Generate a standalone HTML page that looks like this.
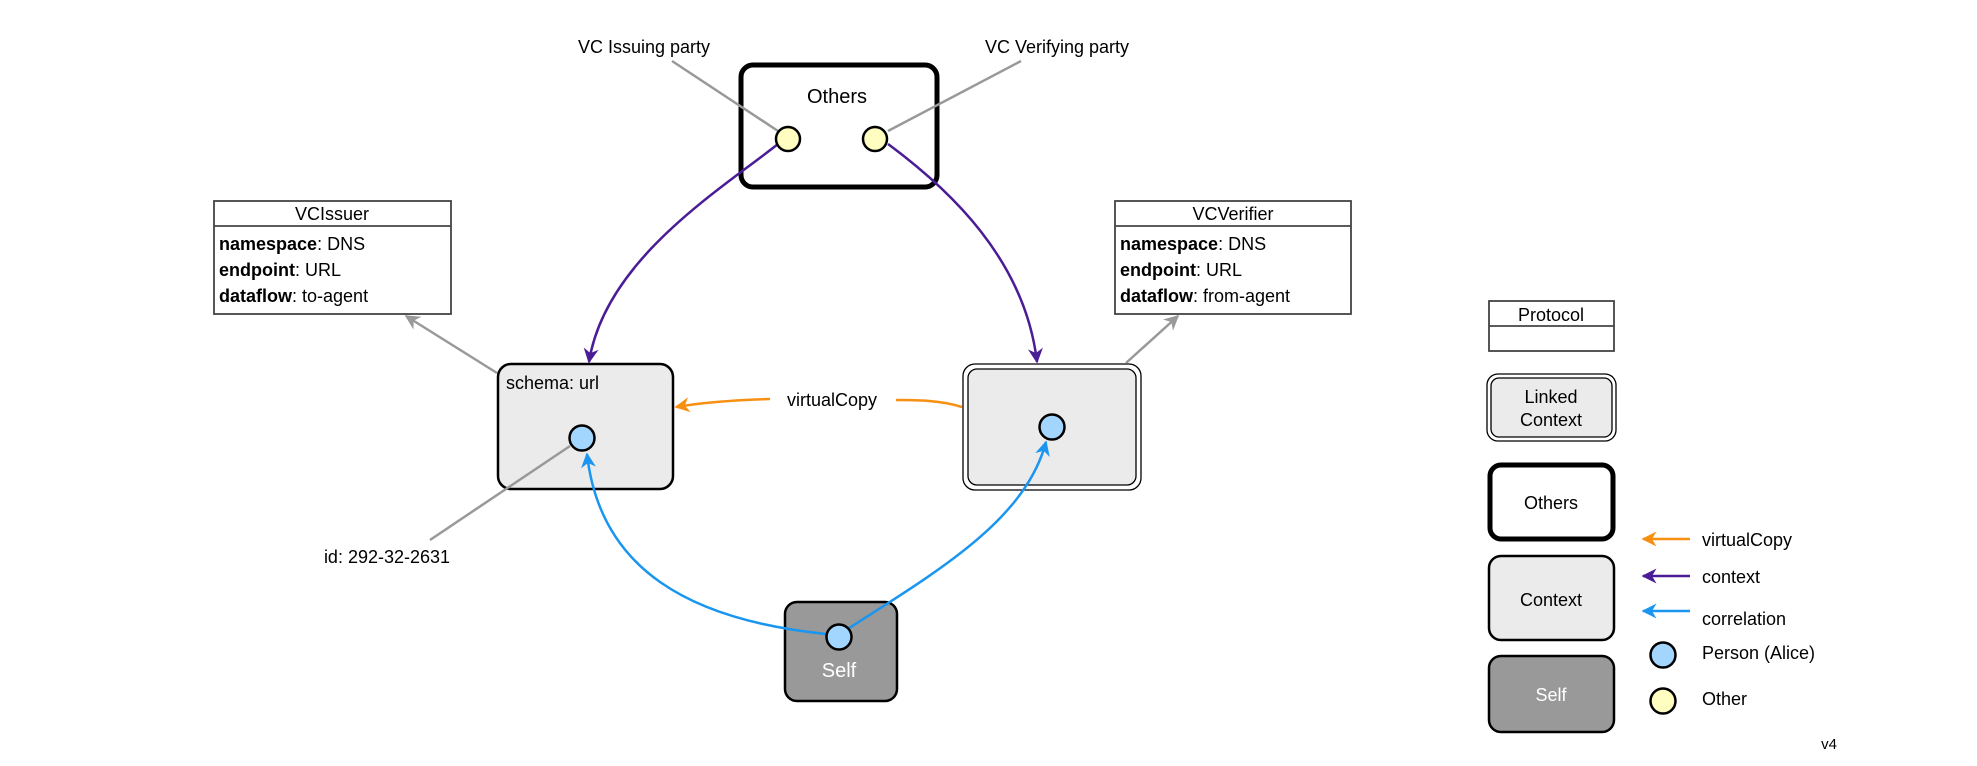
<!DOCTYPE html>
<html><head><meta charset="utf-8"><style>
html,body{margin:0;padding:0;background:#fff;}
svg{display:block;font-family:"Liberation Sans",Arial,sans-serif;}
</style></head><body>
<svg width="1977" height="766" viewBox="0 0 1977 766" xmlns="http://www.w3.org/2000/svg">
<defs>
<marker id="ap" viewBox="0 0 10 10" refX="9" refY="5" markerWidth="6" markerHeight="6" orient="auto"><path d="M0,0 L10,5 L0,10 L3,5z" fill="#4a1c96"/></marker>
<marker id="ab" viewBox="0 0 10 10" refX="9" refY="5" markerWidth="6" markerHeight="6" orient="auto"><path d="M0,0 L10,5 L0,10 L3,5z" fill="#1a96f0"/></marker>
<marker id="ao" viewBox="0 0 10 10" refX="9" refY="5" markerWidth="6" markerHeight="6" orient="auto"><path d="M0,0 L10,5 L0,10 L3,5z" fill="#f79010"/></marker>
<marker id="ag" viewBox="0 0 10 10" refX="9" refY="5" markerWidth="6" markerHeight="6" orient="auto"><path d="M0,0 L10,5 L0,10 L3,5z" fill="#999"/></marker>
</defs>
<g font-size="18" fill="#000">
<text x="644" y="53" text-anchor="middle">VC Issuing party</text>
<text x="1057" y="53" text-anchor="middle">VC Verifying party</text>
<rect x="741" y="65" width="196" height="122" rx="12" fill="#fff" stroke="#000" stroke-width="5"/>
<text x="837" y="103" text-anchor="middle" font-size="20">Others</text>
<line x1="672" y1="61" x2="778" y2="131" stroke="#999" stroke-width="2.5"/>
<line x1="1021" y1="61" x2="888" y2="131" stroke="#999" stroke-width="2.5"/>
<rect x="214" y="201" width="237" height="113" fill="#fff" stroke="#444" stroke-width="1.8"/>
<line x1="214" y1="226" x2="451" y2="226" stroke="#444" stroke-width="1.8"/>
<text x="332" y="220" text-anchor="middle">VCIssuer</text>
<text x="219" y="250"><tspan font-weight="bold">namespace</tspan>: DNS</text>
<text x="219" y="276"><tspan font-weight="bold">endpoint</tspan>: URL</text>
<text x="219" y="302"><tspan font-weight="bold">dataflow</tspan>: to-agent</text>
<rect x="1115" y="201" width="236" height="113" fill="#fff" stroke="#444" stroke-width="1.8"/>
<line x1="1115" y1="226" x2="1351" y2="226" stroke="#444" stroke-width="1.8"/>
<text x="1233" y="220" text-anchor="middle">VCVerifier</text>
<text x="1120" y="250"><tspan font-weight="bold">namespace</tspan>: DNS</text>
<text x="1120" y="276"><tspan font-weight="bold">endpoint</tspan>: URL</text>
<text x="1120" y="302"><tspan font-weight="bold">dataflow</tspan>: from-agent</text>
<rect x="498" y="364" width="175" height="125" rx="13" fill="#ebebeb" stroke="#000" stroke-width="2.5"/>
<text x="506" y="389">schema: url</text>
<line x1="497" y1="373" x2="406" y2="316" stroke="#999" stroke-width="2.5" marker-end="url(#ag)"/>
<rect x="963" y="364" width="178" height="126" rx="12" fill="#fff" stroke="#000" stroke-width="1.3"/>
<rect x="968" y="369" width="168" height="116" rx="9" fill="#ebebeb" stroke="#000" stroke-width="1.3"/>
<line x1="1126" y1="363" x2="1178" y2="316" stroke="#999" stroke-width="2.5" marker-end="url(#ag)"/>
<rect x="785" y="602" width="112" height="99" rx="12" fill="#999" stroke="#000" stroke-width="2.5"/>
<text x="839" y="677" text-anchor="middle" fill="#fff" font-size="20">Self</text>
<line x1="430" y1="540" x2="570" y2="446" stroke="#999" stroke-width="2.5"/>
<text x="387" y="563" text-anchor="middle">id: 292-32-2631</text>
<path d="M778,144 C720,190 605,260 589,362" fill="none" stroke="#4a1c96" stroke-width="2.5" marker-end="url(#ap)"/>
<path d="M888,144 C950,190 1025,260 1037,362" fill="none" stroke="#4a1c96" stroke-width="2.5" marker-end="url(#ap)"/>
<path d="M826,634 C690,620 600,570 587,454" fill="none" stroke="#1a96f0" stroke-width="2.5" marker-end="url(#ab)"/>
<path d="M846,630 C940,570 1025,520 1046,442" fill="none" stroke="#1a96f0" stroke-width="2.5" marker-end="url(#ab)"/>
<path d="M962,407 C940,400 915,400 896,400" fill="none" stroke="#f79010" stroke-width="2.5"/>
<path d="M770,399 C735,400 705,402 676,407" fill="none" stroke="#f79010" stroke-width="2.5" marker-end="url(#ao)"/>
<text x="832" y="406" text-anchor="middle">virtualCopy</text>
<circle cx="788" cy="139" r="12" fill="#fffdc0" stroke="#000" stroke-width="2.5"/>
<circle cx="875" cy="139" r="12" fill="#fffdc0" stroke="#000" stroke-width="2.5"/>
<circle cx="582" cy="438" r="12.5" fill="#a3d6ff" stroke="#000" stroke-width="2.5"/>
<circle cx="1052" cy="427" r="12.5" fill="#a3d6ff" stroke="#000" stroke-width="2.5"/>
<circle cx="839" cy="637" r="12.5" fill="#a3d6ff" stroke="#000" stroke-width="2.5"/>
<rect x="1489" y="301" width="125" height="50" fill="#fff" stroke="#444" stroke-width="1.8"/>
<line x1="1489" y1="326" x2="1614" y2="326" stroke="#444" stroke-width="1.8"/>
<text x="1551" y="321" text-anchor="middle">Protocol</text>
<rect x="1487" y="374" width="129" height="67" rx="11" fill="#fff" stroke="#000" stroke-width="1.3"/>
<rect x="1491" y="378" width="121" height="59" rx="8" fill="#ebebeb" stroke="#000" stroke-width="1.3"/>
<text x="1551" y="403" text-anchor="middle">Linked</text>
<text x="1551" y="426" text-anchor="middle">Context</text>
<rect x="1490" y="465" width="123" height="74" rx="11" fill="#fff" stroke="#000" stroke-width="5"/>
<text x="1551" y="509" text-anchor="middle">Others</text>
<rect x="1489" y="556" width="125" height="84" rx="12" fill="#ebebeb" stroke="#000" stroke-width="2.5"/>
<text x="1551" y="606" text-anchor="middle">Context</text>
<rect x="1489" y="656" width="125" height="76" rx="12" fill="#999" stroke="#000" stroke-width="2.5"/>
<text x="1551" y="701" text-anchor="middle" fill="#fff">Self</text>
<line x1="1690" y1="539" x2="1643" y2="539" stroke="#f79010" stroke-width="2.5" marker-end="url(#ao)"/>
<line x1="1690" y1="576" x2="1643" y2="576" stroke="#4a1c96" stroke-width="2.5" marker-end="url(#ap)"/>
<line x1="1690" y1="611" x2="1643" y2="611" stroke="#1a96f0" stroke-width="2.5" marker-end="url(#ab)"/>
<text x="1702" y="546">virtualCopy</text>
<text x="1702" y="583">context</text>
<text x="1702" y="625">correlation</text>
<circle cx="1663" cy="655" r="12.5" fill="#a3d6ff" stroke="#000" stroke-width="2.5"/>
<circle cx="1663" cy="701" r="12.5" fill="#fffdc0" stroke="#000" stroke-width="2.5"/>
<text x="1702" y="659">Person (Alice)</text>
<text x="1702" y="705">Other</text>
<text x="1829" y="749" text-anchor="middle" font-size="15">v4</text>
</g>
</svg>
</body></html>
